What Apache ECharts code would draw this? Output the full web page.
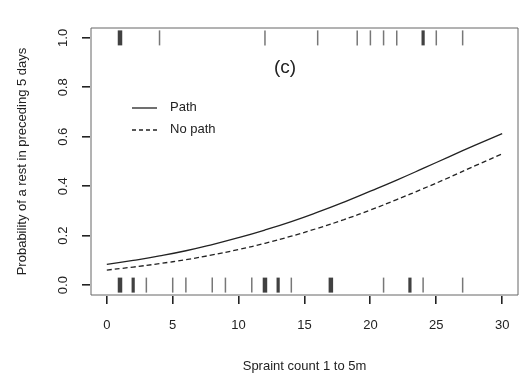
<!DOCTYPE html>
<html>
<head>
<meta charset="utf-8">
<script src="https://cdn.jsdelivr.net/npm/echarts@6/dist/echarts.min.js"></script>
<style>html,body{margin:0;padding:0;background:#fff;}#c{width:519px;height:381px;}</style>
</head>
<body>
<div id="c"></div>
<script>
// Sprait count grid for the fitted curves
var xCount = [0,2,4,6,8,10,12,14,16,18,20,22,24,26,28,30];
// Fitted probability, path present
var probPath = [0.084,0.100,0.118,0.139,0.164,0.192,0.223,0.257,0.295,0.336,0.380,0.425,0.472,0.520,0.567,0.613];
// Fitted probability, no path
var probNoPath = [0.061,0.073,0.087,0.103,0.122,0.144,0.169,0.198,0.230,0.265,0.304,0.346,0.390,0.436,0.484,0.531];
// Observed outcomes: sprait counts with rest = 0 and their multiplicity
var obsZeroX = [1,2,3,5,6,8,9,11,12,13,14,17,21,23,24,27];
var obsZeroN = [3,2,1,1,1,1,1,1,3,2,1,3,1,2,1,1];
// Observed outcomes: sprait counts with rest = 1 and their multiplicity
var obsOneX = [1,4,12,16,19,20,21,22,24,25,27];
var obsOneN = [3,1,1,1,1,1,1,1,2,1,1];
// Tick labels
var xTicks = [0,5,10,15,20,25,30];
var yTicks = [0,0.2,0.4,0.6,0.8,1.0];
var seriesNames = ['Path','No path'];
var panelLabel = '(c)';
var xTitle = 'Spraint count 1 to 5m';
var yTitle = 'Probability of a rest in preceding 5 days';

var X_MIN = -1.2, X_MAX = 31.2, Y_MIN = -0.04, Y_MAX = 1.04;
var FONT = 'Liberation Sans, Arial, sans-serif';
var TXT = '#222';
var TICK_LEN = 8;

function rug(xs, ns, yv) {
  return xs.map(function (x, i) {
    var n = ns[i];
    return {
      value: [x, yv],
      symbolSize: [n === 1 ? 1.5 : 0.6 + n * 1.3, 15],
      itemStyle: { color: n === 1 ? '#555' : '#111' }
    };
  });
}

var baseGraphic = [
  { type: 'text', left: 274, top: 58,
    style: { text: panelLabel, fontSize: 19, fill: TXT, fontFamily: FONT } },
  { type: 'line', shape: { x1: 132, y1: 108, x2: 157, y2: 108 },
    style: { stroke: '#222', lineWidth: 1.3 } },
  { type: 'text', left: 170, top: 101,
    style: { text: seriesNames[0], fontSize: 13, fill: TXT, fontFamily: FONT } },
  { type: 'line', shape: { x1: 132, y1: 130, x2: 157, y2: 130 },
    style: { stroke: '#222', lineWidth: 1.3, lineDash: [4, 3] } },
  { type: 'text', left: 170, top: 123,
    style: { text: seriesNames[1], fontSize: 13, fill: TXT, fontFamily: FONT } }
];

var chart = echarts.init(document.getElementById('c'), null, { renderer: 'canvas' });
chart.setOption({
  animation: false,
  backgroundColor: '#fff',
  grid: {
    left: 91, right: 1, top: 28, bottom: 86,
    show: true, borderColor: '#666', borderWidth: 1, backgroundColor: 'transparent'
  },
  graphic: baseGraphic,
  xAxis: {
    type: 'value', min: X_MIN, max: X_MAX,
    name: xTitle, nameLocation: 'middle', nameGap: 65,
    nameTextStyle: { fontSize: 13, color: TXT, fontFamily: FONT },
    axisLine: { show: false, onZero: false },
    splitLine: { show: false },
    axisTick: { show: false },
    axisLabel: { customValues: xTicks, margin: 24, fontSize: 13, color: TXT, fontFamily: FONT }
  },
  yAxis: {
    type: 'value', min: Y_MIN, max: Y_MAX,
    name: yTitle, nameLocation: 'middle', nameGap: 62,
    nameTextStyle: { fontSize: 13, color: TXT, fontFamily: FONT },
    axisLine: { show: false, onZero: false },
    splitLine: { show: false },
    axisTick: { show: false },
    axisLabel: {
      customValues: yTicks, rotate: 90, margin: 21, fontSize: 13, color: TXT, fontFamily: FONT,
      formatter: function (v) { return v.toFixed(1); }
    }
  },
  series: [
    {
      name: seriesNames[0], type: 'line', smooth: true, symbol: 'none',
      data: xCount.map(function (x, i) { return [x, probPath[i]]; }),
      lineStyle: { color: '#222', width: 1.3, type: 'solid' }
    },
    {
      name: seriesNames[1], type: 'line', smooth: true, symbol: 'none',
      data: xCount.map(function (x, i) { return [x, probNoPath[i]]; }),
      lineStyle: { color: '#222', width: 1.3, type: [5, 3] }
    },
    {
      type: 'scatter', symbol: 'rect', silent: true,
      data: rug(obsZeroX, obsZeroN, 0)
    },
    {
      type: 'scatter', symbol: 'rect', silent: true,
      data: rug(obsOneX, obsOneN, 1)
    }
  ]
});

// Outward tick marks placed through the chart's own scales
var tickGfx = [];
xTicks.forEach(function (v) {
  var p = chart.convertToPixel({ xAxisIndex: 0, yAxisIndex: 0 }, [v, Y_MIN]);
  tickGfx.push({ type: 'rect', z: 100, shape: { x: Math.round(p[0]) - 1, y: Math.round(p[1]) + 1, width: 1.6, height: TICK_LEN },
    style: { fill: '#222' } });
});
yTicks.forEach(function (v) {
  var p = chart.convertToPixel({ xAxisIndex: 0, yAxisIndex: 0 }, [X_MIN, v]);
  tickGfx.push({ type: 'rect', z: 100, shape: { x: Math.round(p[0]) - TICK_LEN - 1, y: Math.round(p[1]) - 1, width: TICK_LEN, height: 1.6 },
    style: { fill: '#222' } });
});
chart.setOption({ graphic: baseGraphic.concat(tickGfx) });
</script>
</body>
</html>
